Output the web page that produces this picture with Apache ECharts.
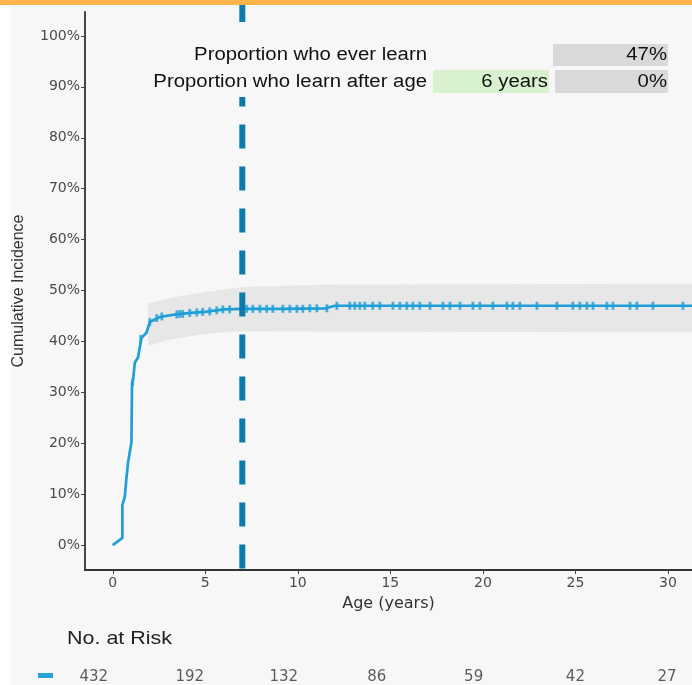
<!DOCTYPE html>
<html>
<head>
<meta charset="utf-8">
<script src="https://cdn.jsdelivr.net/npm/echarts@6/dist/echarts.min.js"></script>
<style>
html,body{margin:0;padding:0;background:#f7f7f7;}
#c{width:692px;height:685px;}
</style>
</head>
<body>
<div id="c"></div>
<script>
// ---- data ----
const xTicks = [0, 5, 10, 15, 20, 25, 30];
const yTicks = [0, 10, 20, 30, 40, 50, 60, 70, 80, 90, 100];

const curveAge = [0, 0.1, 0.52, 0.52, 0.65, 0.74, 0.83, 1.01, 1.04, 1.1, 1.19, 1.37, 1.55, 1.82, 2.0, 2.54, 3.24, 4.2, 5.0, 6.0, 7.0, 9.0, 11.5, 12.0, 31.3];
const curvePct = [0, 0.2, 1.4, 7.9, 9.4, 13.2, 16.3, 20.2, 31.8, 32.5, 35.8, 36.9, 40.7, 41.7, 43.8, 44.8, 45.2, 45.6, 45.8, 46.3, 46.4, 46.4, 46.5, 47.0, 47.0];

const ciAge = [1.9, 2.0, 3.0, 5.0, 7.0, 12.0, 31.3];
const ciLower = [39.3, 39.3, 40.3, 41.5, 42.0, 41.9, 41.8];
const ciUpper = [47.5, 47.5, 48.5, 49.7, 50.7, 51.2, 51.3];

const censorAge = [1.08, 1.51, 2.0, 2.38, 2.65, 3.46, 3.62, 3.78, 4.16, 4.54, 4.86, 5.24, 5.62, 5.95, 6.32,
  7.24, 7.57, 7.95, 8.32, 8.65, 9.19, 9.57, 9.95, 10.27, 10.65, 11.03, 11.57,
  12.11, 12.81, 13.08, 13.35, 13.62, 14.05, 14.43, 15.14, 15.51, 15.89, 16.22, 16.59, 17.14, 17.84, 18.22,
  18.76, 19.46, 19.84, 20.54, 21.3, 21.62, 22.0, 22.92, 24.0, 24.86, 25.24, 25.62, 25.95, 26.7, 27.03,
  27.95, 28.32, 29.19, 30.81];
const censorPct = [32.0, 40.5, 43.8, 44.6, 44.9, 45.3, 45.4, 45.4, 45.6, 45.7, 45.8, 45.9, 46.1, 46.3, 46.3,
  46.4, 46.4, 46.4, 46.4, 46.4, 46.4, 46.4, 46.4, 46.4, 46.5, 46.5, 46.5,
  47.0, 47.0, 47.0, 47.0, 47.0, 47.0, 47.0, 47.0, 47.0, 47.0, 47.0, 47.0, 47.0, 47.0, 47.0,
  47.0, 47.0, 47.0, 47.0, 47.0, 47.0, 47.0, 47.0, 47.0, 47.0, 47.0, 47.0, 47.0, 47.0, 47.0,
  47.0, 47.0, 47.0, 47.0];

const cutoffAge = 7;
const riskAge = [-1.03, 4.16, 9.24, 14.27, 19.5, 25.0, 29.95];
const riskN = [432, 192, 132, 86, 59, 42, 27];

const tableRow1 = 'Proportion who ever learn';
const tableRow2 = 'Proportion who learn after age';
const everLearn = '47%';
const afterAgeLabel = '6 years';
const afterAgeValue = '0%';

// ---- chart ----
const FONT = '"Liberation Sans", Arial, sans-serif';
const WIDE = '"DejaVu Sans", sans-serif';
const BG = '#f7f7f7';
const BLUE = '#1f9fd8';
const chart = echarts.init(document.getElementById('c'), null, {renderer: 'canvas'});

const X_MIN = -1.5, X_MAX = 31.3, Y_MIN = -4.9, Y_MAX = 104.7;
const SX = 1.13; // horizontal stretch of the reference text

function txt(x, y, text, size, align, fill) {
  return {type: 'text', z: 101, x: x, y: y, scaleX: SX,
    style: {x: 0, y: 0, text: text, align: align, verticalAlign: 'middle', font: size + 'px ' + FONT, fill: fill || '#111'}};
}

chart.setOption({
  animation: false,
  backgroundColor: BG,
  grid: [
    {left: 85, right: 0, top: 12, bottom: 115, containLabel: false},
    {left: 85, right: 0, top: 669, height: 20}
  ],
  xAxis: [{
    type: 'value', gridIndex: 0, min: X_MIN, max: X_MAX,
    name: 'Age (years)', nameLocation: 'middle', nameGap: 26,
    nameTextStyle: {fontFamily: WIDE, fontSize: 16, color: '#333'},
    axisLine: {show: true, onZero: false, lineStyle: {color: '#333', width: 1.8}},
    axisTick: {show: true, length: 4, customValues: xTicks, lineStyle: {color: '#444'}},
    axisLabel: {customValues: xTicks, fontFamily: WIDE, fontSize: 14, color: '#4a4a4a', margin: 6},
    splitLine: {show: false}
  }, {
    type: 'value', gridIndex: 1, min: X_MIN, max: X_MAX, show: false
  }],
  yAxis: [{
    type: 'value', gridIndex: 0, min: Y_MIN, max: Y_MAX,
    name: 'Cumulative Incidence', nameLocation: 'middle', nameGap: 58, nameRotate: 90,
    nameTextStyle: {fontFamily: FONT, fontSize: 16, color: '#333'},
    axisLine: {show: true, onZero: false, lineStyle: {color: '#333', width: 1.8}},
    axisTick: {show: true, length: 4, customValues: yTicks, lineStyle: {color: '#444'}},
    axisLabel: {customValues: yTicks, formatter: '{value}%', fontFamily: WIDE, fontSize: 14, color: '#4a4a4a', margin: 5},
    splitLine: {show: false}
  }, {
    type: 'value', gridIndex: 1, min: 0, max: 1, show: false
  }],
  series: [
    {
      type: 'custom', name: 'ci', silent: true, z: 1,
      data: [[ciAge[0], ciLower[0]]],
      renderItem: function (params, api) {
        const pts = [];
        for (let i = 0; i < ciAge.length; i++) pts.push(api.coord([ciAge[i], ciUpper[i]]));
        for (let i = ciAge.length - 1; i >= 0; i--) pts.push(api.coord([ciAge[i], ciLower[i]]));
        return {type: 'polygon', shape: {points: pts}, style: {fill: '#e7e7e7'}};
      }
    },
    {
      type: 'line', name: 'curve', symbol: 'none',
      data: curveAge.map((a, i) => [a, curvePct[i]]),
      lineStyle: {color: BLUE, width: 2.7}, z: 3
    },
    {
      type: 'scatter', name: 'censor', symbol: 'rect', symbolSize: [2.8, 8],
      data: censorAge.map((a, i) => [a, censorPct[i]]),
      itemStyle: {color: BLUE}, z: 4
    },
    {
      type: 'line', name: 'cutoff', symbol: 'none', clip: false,
      data: [[cutoffAge, -4.6], [cutoffAge, 106.2]],
      lineStyle: {color: '#0b7bab', width: 6, type: [24, 18], cap: 'butt'}, z: 6
    },
    {
      type: 'scatter', name: 'risk', xAxisIndex: 1, yAxisIndex: 1,
      symbolSize: 1, itemStyle: {color: 'rgba(0,0,0,0)'},
      data: riskAge.map((a, i) => [a, 0.5, riskN[i]]),
      label: {show: true, position: 'inside', formatter: p => p.value[2],
        fontFamily: WIDE, fontSize: 15, color: '#333'}
    }
  ],
  graphic: [
    {type: 'rect', z: 100, shape: {x: 150, y: 22, width: 282, height: 75}, style: {fill: BG}},
    txt(427, 55, tableRow1, 18, 'right'),
    txt(427, 82, tableRow2, 18, 'right'),
    {type: 'rect', z: 100, shape: {x: 553, y: 44, width: 115, height: 22}, style: {fill: '#d9d9d9'}},
    txt(667, 55, everLearn, 18, 'right'),
    {type: 'rect', z: 100, shape: {x: 433, y: 70, width: 116, height: 23}, style: {fill: '#d8f1cf'}},
    txt(548, 82, afterAgeLabel, 18, 'right'),
    {type: 'rect', z: 100, shape: {x: 555, y: 70, width: 113, height: 23}, style: {fill: '#d9d9d9'}},
    txt(667, 82, afterAgeValue, 18, 'right'),
    txt(67, 639, 'No. at Risk', 19, 'left', '#222'),
    {type: 'rect', z: 100, shape: {x: 38, y: 673, width: 15, height: 5}, style: {fill: '#29a3d8'}},
    {type: 'rect', z: 110, shape: {x: 0, y: 0, width: 11, height: 685}, style: {fill: '#ffffff'}},
    {type: 'rect', z: 111, shape: {x: 0, y: 0, width: 692, height: 5}, style: {fill: '#ffb44c'}}
  ]
});
</script>
</body>
</html>
